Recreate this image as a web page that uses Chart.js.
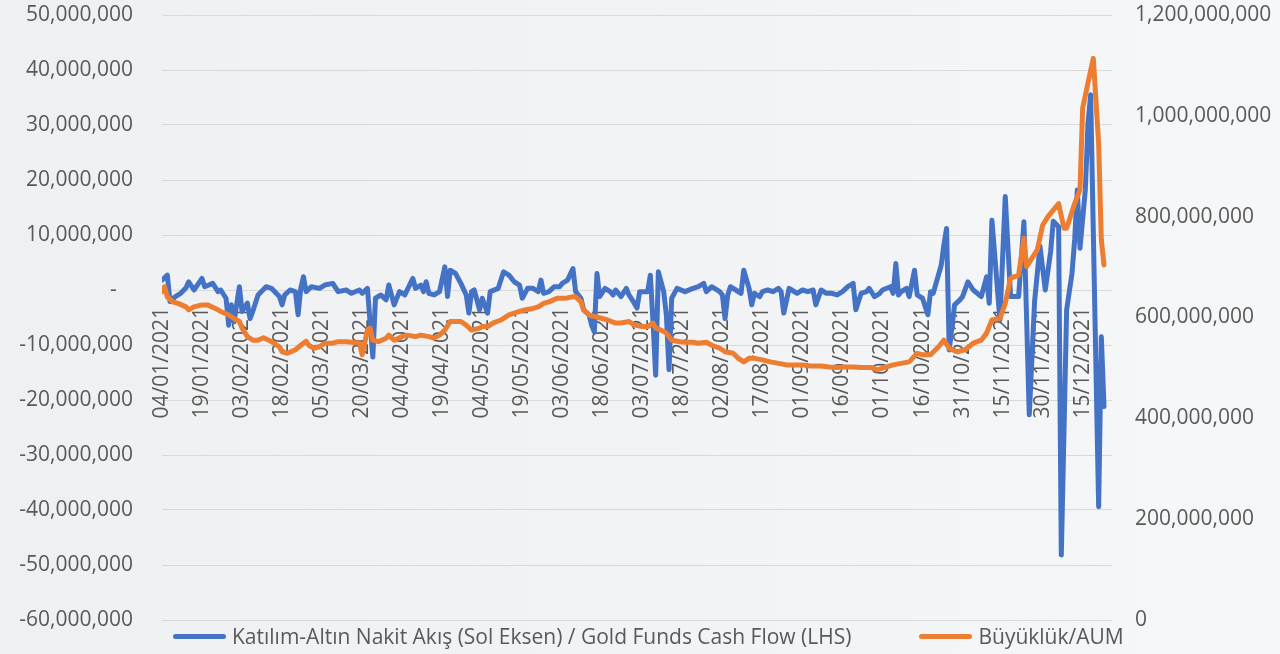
<!DOCTYPE html>
<html lang="tr">
<head>
<meta charset="utf-8">
<title>Katılım-Altın Nakit Akış / Büyüklük</title>
<script src="https://cdn.jsdelivr.net/npm/chart.js@4.4.1/dist/chart.umd.min.js"></script>
<style>
  html, body { margin: 0; padding: 0; }
  body {
    width: 1280px; height: 654px; overflow: hidden;
    background: linear-gradient(90deg, #eef0f2 0%, #f2f3f5 55%, #f6f7f8 100%);
    font-family: 'Open Sans', sans-serif;
  }
  #wrap   { position: relative; width: 1280px; height: 654px; }
  #legend { position: absolute; left: 173px; top: 622px; display: flex; align-items: center;
            color: #595959; font-size: 21px; white-space: nowrap; }
  .lg-item { display: flex; align-items: center; }
  .lg-item + .lg-item { margin-left: 68px; }
  .lg-swatch { width: 53px; height: 5px; border-radius: 3px; margin-right: 6px; }
</style>
</head>
<body>
<div id="wrap">
  <canvas id="chart" width="1280" height="654"></canvas>
  <div id="legend"></div>
</div>

<script>
/* ---- Data -----------------------------------------------------
   x = days since 04/01/2021, cash flow in TL millions (left axis),
   AUM in TL millions (right axis)                                 */
const tickLabels = [
  '04/01/2021', '19/01/2021', '03/02/2021', '18/02/2021', '05/03/2021', '20/03/2021',
  '04/04/2021', '19/04/2021', '04/05/2021', '19/05/2021', '03/06/2021', '18/06/2021',
  '03/07/2021', '18/07/2021', '02/08/2021', '17/08/2021', '01/09/2021', '16/09/2021',
  '01/10/2021', '16/10/2021', '31/10/2021', '15/11/2021', '30/11/2021', '15/12/2021'
];

const seriesNames = [
  'Katılım-Altın Nakit Akış (Sol Eksen) / Gold Funds Cash Flow (LHS)',
  'Büyüklük/AUM'
];

const flowDays = [
  0, 2, 3, 5, 7, 9, 10, 12, 15, 16, 19, 21, 22, 24, 25, 26, 27, 29, 30, 32,
  33, 34, 36, 39, 41, 44, 45, 46, 48, 50, 51, 52, 53, 54, 56, 59, 61, 64, 66, 69,
  71, 74, 75, 77, 78, 79, 80, 82, 84, 85, 87, 89, 91, 94, 95, 97, 98, 99, 100, 102,
  104, 106, 107, 108, 110, 112, 114, 115, 116, 117, 119, 120, 122, 123, 126, 128, 130, 132, 134, 135,
  137, 139, 141, 142, 143, 145, 147, 149, 150, 152, 154, 155, 157, 158, 160, 161, 162, 163, 164, 166,
  168, 169, 170, 172, 174, 175, 177, 178, 179, 182, 183, 184, 185, 186, 187, 188, 189, 190, 191, 193,
  196, 199, 201, 203, 204, 206, 209, 210, 211, 212, 213, 215, 217, 218, 220, 221, 222, 224, 225, 227,
  229, 231, 232, 233, 235, 236, 238, 240, 242, 244, 245, 247, 249, 251, 253, 255, 257, 259, 260, 262,
  264, 265, 267, 269, 270, 273, 274, 275, 276, 277, 279, 280, 282, 283, 285, 287, 288, 289, 292, 293,
  294, 295, 297, 299, 300, 302, 304, 307, 309, 310, 311, 314, 316, 318, 321, 323, 325, 327, 329, 331,
  333, 334, 336, 337, 339, 341, 342, 343, 344, 346, 347, 348, 351, 352, 353
];
const flowValues = [
  1.8, 2.7, -2.1, -1.2, -0.6, 0.4, 1.5, 0, 2.1, 0.6, 1.2, -0.3, 0, -1.5, -6.4, -2.7, -5.8, 0.6, -3.9, -2.4,
  -5.2, -3.9, -0.9, 0.6, 0.3, -1.2, -2.7, -0.9, 0, -0.3, -4.5, 0.3, 2.4, -0.3, 0.6, 0.3, 0.9, 1.2, -0.3, 0,
  -0.6, 0, -0.6, 0.3, -6.0, -12.2, -1.5, -0.9, -1.8, 0.9, -2.7, -0.3, -0.9, 2.1, 0.3, 0.9, -0.3, 1.5, -0.6, -0.9,
  -0.3, 4.2, -1.2, 3.6, 3.0, 1.2, -0.9, -4.2, -0.3, 0, -3.6, -1.5, -4.2, -0.3, 0.3, 3.3, 2.7, 1.5, 0.9, -1.5,
  0.3, 0.3, -0.3, 1.8, -0.6, -0.3, 0.6, 0.6, 1.2, 1.8, 3.9, -0.3, -1.5, -3.6, -4.5, -6.4, -7.6, 3.0, -1.2, 0.3,
  -0.3, -0.9, 0, -1.2, 0.3, -0.9, -2.4, -3.3, -0.3, -0.3, 2.7, -5.8, -15.5, 3.3, 1.5, -0.3, -4.5, -14.5, -1.5, 0.3,
  -0.3, 0.3, 0.6, 1.2, -0.3, 0.6, -0.3, -0.9, -5.2, -0.9, 0.6, 0, -0.6, 3.6, 0.3, -2.7, -0.6, -1.2, -0.3, 0,
  -0.3, 0.3, -0.3, -4.2, 0.3, 0, -0.6, 0, -0.3, 0, -2.7, 0, -0.6, -0.6, -0.9, -0.3, 0.6, 1.2, -3.6, -0.6,
  -0.3, 0.3, -1.2, -0.6, 0, 0.6, -0.6, 4.8, -0.9, -0.3, 0.3, -1.2, 3.6, -0.9, -1.5, -4.5, -0.3, -0.6, 4.5, 8.2,
  11.2, -10.9, -2.7, -1.8, -1.2, 1.5, 0, -1.2, 2.4, -2.4, 12.7, -5.5, 17.0, -1.2, -1.2, 12.4, -22.7, -2.0, 8.0, 0,
  7.0, 12.5, 11.5, -48.2, -3.6, 3.0, 9.1, 18.2, 7.6, 18.2, 30.3, 35.5, -39.4, -8.5, -21.2
];

const aumDays = [
  0, 1, 2, 4, 6, 9, 10, 12, 15, 17, 20, 22, 25, 27, 29, 30, 32, 34, 36, 38,
  40, 42, 44, 45, 47, 50, 52, 54, 55, 57, 59, 61, 64, 66, 69, 71, 74, 75, 77, 78,
  79, 81, 84, 85, 87, 90, 92, 95, 97, 100, 102, 104, 106, 108, 110, 112, 114, 116, 119, 120,
  122, 124, 127, 130, 134, 136, 139, 141, 143, 145, 148, 150, 151, 154, 155, 157, 158, 160, 162, 165,
  167, 170, 172, 175, 177, 180, 182, 184, 185, 187, 189, 191, 194, 196, 199, 201, 204, 206, 209, 211,
  214, 216, 218, 220, 222, 225, 228, 231, 234, 237, 240, 243, 247, 250, 253, 256, 259, 262, 266, 268,
  271, 274, 277, 280, 283, 285, 288, 291, 293, 295, 298, 301, 304, 307, 309, 311, 314, 316, 318, 321,
  323, 324, 328, 330, 332, 336, 338, 339, 342, 344, 345, 347, 349, 351, 352, 353
];
const aumValues = [
  651, 661, 641, 631, 628, 621, 615, 621, 625, 625, 618, 612, 605, 598, 592, 579, 562, 555, 555, 560,
  555, 549, 542, 532, 529, 536, 545, 553, 545, 539, 542, 549, 549, 552, 552, 551, 549, 526, 575, 579,
  555, 552, 559, 565, 555, 562, 565, 562, 565, 562, 559, 565, 575, 592, 592, 592, 585, 575, 579, 582,
  582, 589, 595, 605, 612, 615, 618, 621, 628, 631, 638, 638, 638, 641, 641, 631, 615, 605, 602, 598,
  595, 589, 589, 592, 585, 582, 582, 589, 579, 575, 569, 555, 552, 551, 551, 549, 551, 545, 539, 532,
  529, 519, 512, 519, 519, 516, 512, 509, 506, 506, 506, 504, 504, 502, 501, 502, 502, 501, 501, 496,
  501, 506, 509, 512, 529, 526, 526, 542, 555, 539, 532, 536, 549, 555, 569, 595, 598, 628, 678, 684,
  757, 701, 734, 783, 800, 826, 777, 777, 826, 853, 1015, 1065, 1114, 945, 754, 704
];

/* ---- Styling -------------------------------------------------- */
const BLUE   = '#4472C4';
const ORANGE = '#ED7D31';
const GREY   = '#595959';
const GRID   = '#d9d9d9';
const FONT   = { family: "'Open Sans', sans-serif", size: 21 };

Chart.defaults.font.family = FONT.family;

const toPoints = (days, values) => days.map((d, i) => ({ x: d, y: values[i] * 1e6 }));

// Keep the plot box where the reference has it: no extra label padding
function noPadding(scale) {
  scale.paddingTop = scale.paddingBottom = 0;
  scale.paddingLeft = scale.paddingRight = 0;
}

/* ---- Chart ---------------------------------------------------- */
const chart = new Chart(document.getElementById('chart'), {
  type: 'line',
  data: {
    datasets: [
      {
        label: seriesNames[0],
        data: toPoints(flowDays, flowValues),
        borderColor: BLUE,
        backgroundColor: BLUE,
        yAxisID: 'y',
        order: 2
      },
      {
        label: seriesNames[1],
        data: toPoints(aumDays, aumValues),
        borderColor: ORANGE,
        backgroundColor: ORANGE,
        yAxisID: 'y1',
        order: 1
      }
    ]
  },
  options: {
    responsive: false,
    animation: false,
    layout: { padding: { top: 15, bottom: 34, left: 0, right: 0 } },
    elements: {
      line:  { borderWidth: 5, tension: 0, borderJoinStyle: 'round', borderCapStyle: 'round' },
      point: { radius: 0, hoverRadius: 0 }
    },
    plugins: {
      legend:  { display: false },
      tooltip: { enabled: false }
    },
    scales: {
      x: {
        type: 'linear',
        position: { y: 0 },          // labels hang under the zero line, like Excel
        min: 0,
        max: 356,
        grid:   { display: false, drawTicks: false },
        border: { display: false },
        ticks: {
          stepSize: 15,
          autoSkip: false,
          includeBounds: false,
          minRotation: 90,
          maxRotation: 90,
          padding: 17,
          color: GREY,
          font: FONT,
          callback: v => tickLabels[v / 15] ?? ''
        },
        afterFit: noPadding
      },
      y: {
        position: 'left',
        min: -60e6,
        max: 50e6,
        grid:   { color: GRID, lineWidth: 1, drawTicks: false },
        border: { display: false },
        ticks: {
          stepSize: 10e6,
          padding: 29,
          color: GREY,
          font: FONT,
          callback: v => v === 0 ? '-   ' : v.toLocaleString('en-US')
        },
        afterFit: scale => { scale.width = 162; noPadding(scale); }
      },
      y1: {
        position: 'right',
        min: 0,
        max: 1.2e9,
        grid:   { drawOnChartArea: false, drawTicks: false },
        border: { display: false },
        ticks: {
          stepSize: 200e6,
          padding: 23,
          color: GREY,
          font: FONT,
          callback: v => v.toLocaleString('en-US')
        },
        afterFit: scale => { scale.width = 168; noPadding(scale); }
      }
    }
  }
});

/* ---- Legend (HTML, below the plot) ---------------------------- */
const legendEl = document.getElementById('legend');
legendEl.innerHTML = chart.data.datasets.map(ds => `
  <div class="lg-item">
    <span class="lg-swatch" style="background:${ds.borderColor}"></span>
    <span>${ds.label}</span>
  </div>`).join('');
</script>
</body>
</html>
